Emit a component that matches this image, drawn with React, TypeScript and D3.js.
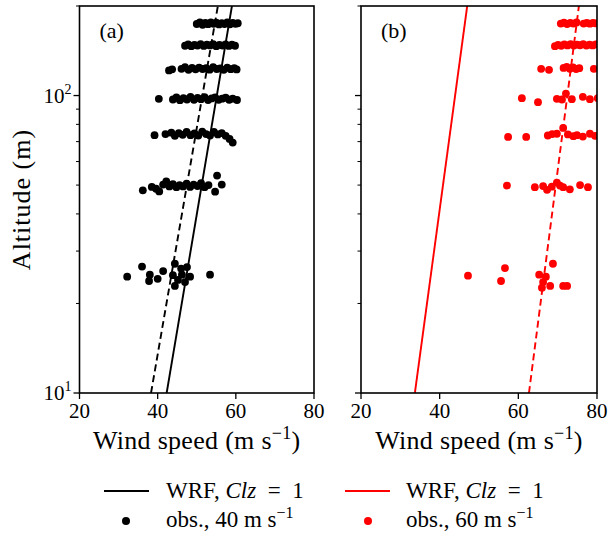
import React from 'react';
import * as d3 from 'd3';

const W = 608;
const H = 536;
const FONT = '"Liberation Serif"';

// Axis ticks
const xTicks = [20, 40, 60, 80];
const yMajor = [10, 100];
const yMinor = [20, 30, 40, 50, 60, 70, 80, 90, 200];

// Model profiles (altitude m -> wind speed m/s), straight in semi-log axes
const modelAlt = [10, 200];
const wrfASolid = [42.3, 59.0];
const wrfADashed = [38.3, 55.4];
const wrfBSolid = [33.7, 47.0];
const wrfBDashed = [62.7, 75.4];

// Observations, panel (a): [wind speed, altitude]
const obsA: [number, number][] = [
  // ~25 m
  [32.2, 24.6], [36.0, 26.6], [38.0, 25.0], [37.8, 23.8], [40.0, 24.2], [41.4, 25.7],
  [43.9, 24.9], [44.4, 27.2], [44.4, 22.9], [45.2, 24.0], [46.2, 25.0], [47.5, 26.5],
  [48.3, 24.6], [47.0, 23.6], [46.0, 26.2], [53.4, 25.0],
  // ~50 m
  [36.2, 48.0], [38.5, 49.3], [39.6, 48.6], [40.4, 47.6], [41.4, 50.2], [42.2, 51.4],
  [43.0, 49.5], [43.9, 50.4], [44.8, 49.2], [45.6, 50.0], [46.5, 49.5], [47.4, 50.6],
  [48.3, 49.3], [49.2, 50.2], [50.2, 49.6], [51.1, 50.8], [52.0, 49.2], [53.0, 50.0],
  [54.7, 47.5], [55.2, 53.8], [56.4, 50.2],
  // ~75 m
  [39.2, 73.6], [42.0, 74.2], [43.5, 75.0], [44.4, 73.2], [45.4, 74.8], [46.4, 73.8],
  [47.4, 75.4], [48.4, 73.6], [49.4, 74.6], [50.4, 73.4], [51.4, 75.6], [52.4, 74.2],
  [53.4, 73.4], [54.4, 75.4], [55.4, 74.0], [56.4, 74.8], [57.4, 73.2], [58.4, 71.5],
  [59.2, 69.5],
  // ~100 m
  [40.3, 97.5], [43.9, 97.0], [44.8, 98.5], [45.7, 96.5], [46.6, 98.0], [47.5, 97.0],
  [48.4, 99.0], [49.3, 96.8], [50.2, 98.2], [51.1, 97.2], [52.0, 98.8], [52.9, 96.6],
  [53.8, 97.8], [54.7, 98.6], [55.6, 96.8], [56.5, 97.6], [57.4, 98.4], [58.3, 96.8],
  [59.2, 97.6], [60.3, 96.6],
  // ~125 m
  [42.9, 121.5], [43.7, 122.5], [46.1, 123.0], [47.0, 124.5], [47.9, 122.0], [48.8, 123.8],
  [49.7, 122.5], [50.6, 124.2], [51.5, 122.8], [52.4, 123.6], [53.3, 122.2], [54.2, 124.6],
  [55.1, 122.8], [56.0, 123.4], [56.9, 122.0], [57.8, 124.2], [58.7, 122.6], [59.6, 123.6],
  [60.2, 122.4],
  // ~150 m
  [47.0, 147.0], [47.8, 148.5], [48.6, 146.5], [49.4, 148.0], [50.2, 147.2], [51.0, 149.0],
  [51.8, 146.8], [52.6, 148.2], [53.4, 147.4], [54.2, 149.0], [55.0, 146.6], [55.8, 148.0],
  [56.6, 147.2], [57.4, 148.6], [58.2, 146.8], [59.0, 148.2], [59.8, 147.0],
  // ~175 m
  [50.0, 174.0], [50.8, 176.0], [51.5, 173.0], [52.2, 175.5], [52.9, 173.8], [53.6, 176.2],
  [54.3, 174.2], [55.0, 175.8], [55.7, 173.4], [56.4, 175.2], [57.1, 174.0], [57.8, 176.0],
  [58.5, 173.6], [59.2, 175.4], [59.9, 174.2], [60.5, 175.0],
];

// Observations, panel (b): [wind speed, altitude]
const obsB: [number, number][] = [
  // ~25 m
  [47.2, 24.8], [56.6, 26.3], [55.6, 23.8], [65.3, 25.0], [67.0, 24.6], [66.3, 23.6],
  [68.8, 27.2], [66.0, 22.6], [68.1, 22.9], [71.4, 22.9], [72.4, 22.9],
  // ~50 m
  [57.1, 49.8], [64.2, 49.2], [66.3, 49.6], [67.3, 48.2], [68.5, 49.4], [69.8, 51.0],
  [70.6, 49.8], [71.4, 49.2], [73.1, 48.4], [75.7, 50.0], [77.7, 49.2],
  // ~75 m
  [57.4, 72.6], [62.0, 72.6], [67.5, 73.4], [68.6, 74.2], [69.8, 74.4], [71.4, 77.8],
  [72.6, 74.0], [74.0, 73.0], [74.9, 73.6], [76.4, 72.8], [78.2, 74.4], [79.5, 73.2],
  // ~100 m
  [60.9, 98.0], [65.0, 95.0], [69.8, 97.5], [71.1, 97.0], [72.1, 101.5], [73.6, 97.2],
  [76.4, 99.0], [78.2, 97.2], [80.2, 98.0],
  // ~125 m
  [65.8, 123.0], [67.8, 122.0], [71.5, 123.8], [72.3, 124.8], [73.1, 123.0], [73.9, 124.4],
  [74.7, 122.8], [75.5, 123.6], [79.2, 123.0], [81.5, 124.0],
  // ~150 m
  [69.3, 146.5], [70.1, 148.0], [70.9, 147.0], [71.7, 148.6], [72.5, 147.4], [73.3, 148.8],
  [74.1, 147.2], [74.9, 148.4], [75.7, 147.6], [76.5, 148.8], [77.3, 147.2], [78.1, 148.4],
  [78.9, 147.4], [79.7, 148.6], [81.0, 147.8],
  // ~175 m
  [70.8, 174.5], [71.6, 175.8], [72.4, 174.0], [73.2, 175.5], [74.0, 174.6], [74.8, 176.0],
  [76.6, 174.6], [77.4, 175.6], [78.2, 174.4], [79.0, 175.4], [79.8, 174.8], [81.0, 175.0],
];

const TOP = 6;
const BOTTOM = 393;

const panels = [
  { id: 'a', label: '(a)', left: 79.5, right: 314, color: '#000000', solid: wrfASolid, dashed: wrfADashed, obs: obsA, showYLabels: true },
  { id: 'b', label: '(b)', left: 361, right: 597, color: '#ff0000', solid: wrfBSolid, dashed: wrfBDashed, obs: obsB, showYLabels: false },
];

const yScale = d3.scaleLog().domain([10, 200]).range([BOTTOM, TOP]);

const txt = (size: number): React.CSSProperties => ({ fontFamily: FONT, fontSize: size });

function Panel({ p }: { p: typeof panels[number] }) {
  const x = d3.scaleLinear().domain([20, 80]).range([p.left, p.right]);
  const line = d3
    .line<[number, number]>()
    .x((d) => x(d[0]))
    .y((d) => yScale(d[1]));
  const solidPts = modelAlt.map((z, i) => [p.solid[i], z] as [number, number]);
  const dashedPts = modelAlt.map((z, i) => [p.dashed[i], z] as [number, number]);
  const clipId = `clip-${p.id}`;
  const cx = (p.left + p.right) / 2;
  return (
    <g>
      <defs>
        <clipPath id={clipId}>
          <rect x={p.left} y={TOP} width={p.right - p.left} height={BOTTOM - TOP} />
        </clipPath>
      </defs>
      <g clipPath={`url(#${clipId})`}>
        {p.obs.map((d, i) => (
          <circle key={i} cx={x(d[0])} cy={yScale(d[1])} r={3.9} fill={p.color} />
        ))}
        <path d={line(solidPts) || ''} fill="none" stroke={p.color} strokeWidth={1.9} />
        <path d={line(dashedPts) || ''} fill="none" stroke={p.color} strokeWidth={1.9} strokeDasharray="7,4" />
      </g>
      <rect x={p.left} y={TOP} width={p.right - p.left} height={BOTTOM - TOP} fill="none" stroke="#000" strokeWidth={1.6} />
      {xTicks.map((t) => (
        <g key={t}>
          <line x1={x(t)} x2={x(t)} y1={BOTTOM} y2={BOTTOM + 6} stroke="#000" strokeWidth={1.3} />
          <text x={x(t)} y={BOTTOM + 25} textAnchor="middle" style={txt(21)}>{t}</text>
        </g>
      ))}
      {yMajor.map((t) => (
        <g key={t}>
          <line x1={p.left - 6} x2={p.left} y1={yScale(t)} y2={yScale(t)} stroke="#000" strokeWidth={1.3} />
          {p.showYLabels && (
            <text x={p.left - 8} y={yScale(t) + 7} textAnchor="end" style={txt(21)}>
              10<tspan style={{ fontSize: 14 }} dy={-9}>{Math.round(Math.log10(t))}</tspan>
            </text>
          )}
        </g>
      ))}
      {yMinor.map((t) => (
        <line key={t} x1={p.left - 3.5} x2={p.left} y1={yScale(t)} y2={yScale(t)} stroke="#000" strokeWidth={1} />
      ))}
      <text x={p.left + 20} y={38} style={txt(22)}>{p.label}</text>
      <text x={cx} y={449} textAnchor="middle" style={{ ...txt(26), letterSpacing: 0.3 }}>
        Wind speed (m s<tspan style={{ fontSize: 18 }} dy={-10}>−1</tspan><tspan dy={10}>)</tspan>
      </text>
    </g>
  );
}

export default function App() {
  return (
    <svg width={W} height={H} style={{ position: 'absolute', left: 0, top: 0, background: '#fff' }}>
      <rect x={0} y={0} width={W} height={H} fill="#fff" />
      {panels.map((p) => (
        <Panel key={p.id} p={p} />
      ))}
      <text transform={`translate(30, ${(TOP + BOTTOM) / 2}) rotate(-90)`} textAnchor="middle" style={{ ...txt(26), letterSpacing: 1 }}>
        Altitude (m)
      </text>
      <g>
        <line x1={104} x2={149} y1={491} y2={491} stroke="#000" strokeWidth={2} />
        <text x={166} y={498} style={txt(23)}>
          WRF, <tspan style={{ fontStyle: 'italic' }}>Clz</tspan>{'\u2002=\u20021'}
        </text>
        <line x1={345} x2={390} y1={491} y2={491} stroke="#ff0000" strokeWidth={2} />
        <text x={406} y={498} style={txt(23)}>
          WRF, <tspan style={{ fontStyle: 'italic' }}>Clz</tspan>{'\u2002=\u20021'}
        </text>
        <circle cx={126} cy={521} r={4} fill="#000" />
        <text x={166} y={527} style={txt(23)}>
          obs., 40 m s<tspan style={{ fontSize: 16 }} dy={-9}>−1</tspan>
        </text>
        <circle cx={368} cy={521} r={4} fill="#ff0000" />
        <text x={406} y={527} style={txt(23)}>
          obs., 60 m s<tspan style={{ fontSize: 16 }} dy={-9}>−1</tspan>
        </text>
      </g>
    </svg>
  );
}
